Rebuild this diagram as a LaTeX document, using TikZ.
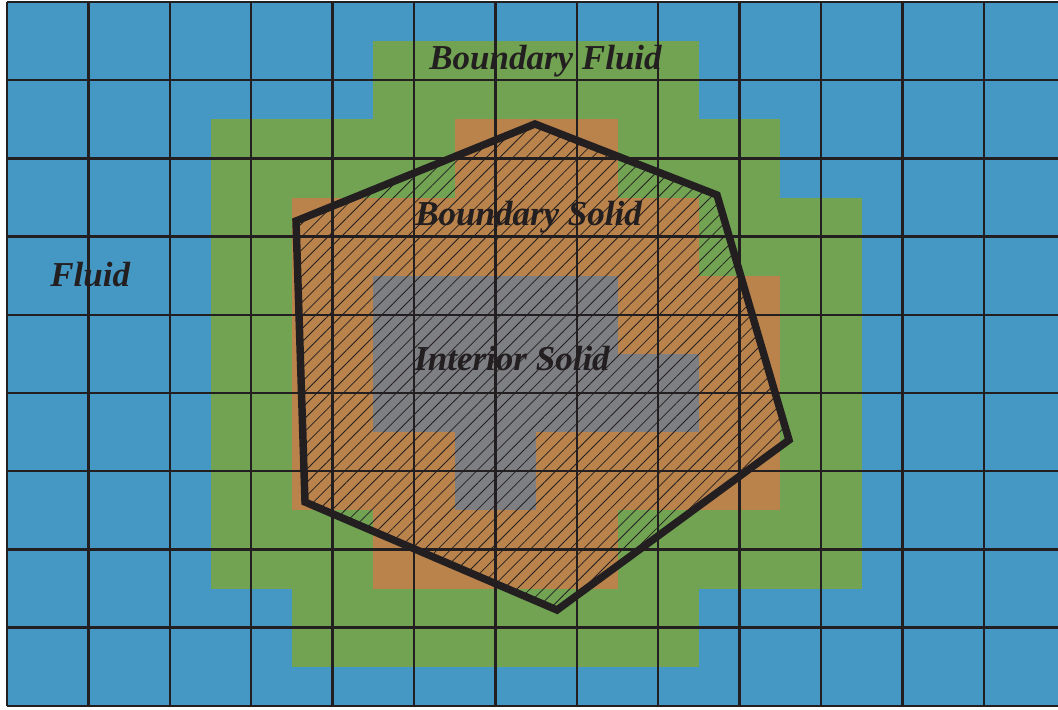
\documentclass[tikz,border=0pt]{standalone}
\usepackage{fontspec}
\setmainfont{Liberation Serif}
\usetikzlibrary{patterns.meta}
\definecolor{fluidblue}{HTML}{4698C4}
\definecolor{bfgreen}{HTML}{71A352}
\definecolor{bsorange}{HTML}{B9834B}
\definecolor{isgray}{HTML}{7E7F83}
\definecolor{ink}{HTML}{231F20}
\tikzset{
  gridline/.style={draw=ink, line width=1.8pt},
  outline/.style={draw=ink, line width=5.6pt, line join=miter},
  hatch/.style={pattern={Lines[angle=45,distance=7pt,line width=0.6pt]}, pattern color=ink},
  label/.style={anchor=base west, inner sep=0pt, text=ink, font=\fontsize{26.25}{30}\selectfont\bfseries\itshape}
}
\begin{document}
\begin{tikzpicture}[x=0.75pt,y=-0.75pt]
\useasboundingbox (0,0) rectangle (1058,710);
% background fluid
\fill[fluidblue] (7,2) rectangle (1058,706);
% cell layers on half-offset grid
\begin{scope}[shift={(5.25pt,-1.5pt)}, x=61.05pt, y=-58.65pt]
  % boundary fluid
  \fill[bfgreen] (4.5,0.5) rectangle (8.5,1.5);
  \fill[bfgreen] (2.5,1.5) rectangle (9.5,2.5);
  \fill[bfgreen] (2.5,2.5) rectangle (10.5,7.5);
  \fill[bfgreen] (3.5,7.5) rectangle (8.5,8.5);
  % boundary solid
  \fill[bsorange] (5.5,1.5) rectangle (7.5,2.5);
  \fill[bsorange] (3.5,2.5) rectangle (8.5,3.5);
  \fill[bsorange] (3.5,3.5) rectangle (9.5,6.5);
  \fill[bsorange] (4.5,6.5) rectangle (7.5,7.5);
  % interior solid
  \fill[isgray] (4.5,3.5) rectangle (7.5,4.5);
  \fill[isgray] (4.5,4.5) rectangle (8.5,5.5);
  \fill[isgray] (5.5,5.5) rectangle (6.5,6.5);
\end{scope}
% solid body polygon
\coordinate (p1) at (535,124);
\coordinate (p2) at (717,195);
\coordinate (p3) at (789,440);
\coordinate (p4) at (557,610);
\coordinate (p5) at (305,502);
\coordinate (p6) at (296,221);
\fill[hatch] (p1) -- (p2) -- (p3) -- (p4) -- (p5) -- (p6) -- cycle;
% grid
\foreach \k in {0,...,12} {
  \draw[gridline] ({7+81.4*\k},2) -- ({7+81.4*\k},706);
}
\foreach \k in {0,...,9} {
  \draw[gridline] (7,{2+78.2*\k}) -- (1058,{2+78.2*\k});
}
\draw[outline] (p1) -- (p2) -- (p3) -- (p4) -- (p5) -- (p6) -- cycle;
% labels
\node[label] (bf) at (429,69.5) {Boundary Fluid};
\node[label] (fl) at (50,286.5) {Fluid};
\node[label] (bs) at (415,225.5) {Boundary Solid};
\node[label] (is) at (414,370.5) {Interior Solid};
\end{tikzpicture}
\end{document}
